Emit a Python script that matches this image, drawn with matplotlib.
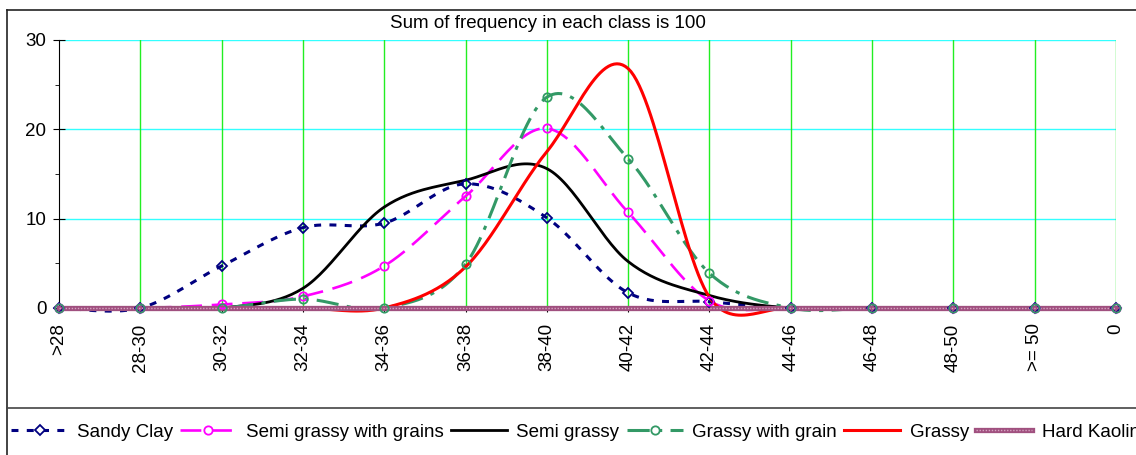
import numpy as np
import matplotlib.pyplot as plt
from matplotlib.lines import Line2D
from matplotlib.legend_handler import HandlerTuple

plt.rcParams['font.family'] = ['Liberation Sans', 'DejaVu Sans']
plt.rcParams['lines.scale_dashes'] = False

# data
classes = ['>28', '28-30', '30-32', '32-34', '34-36', '36-38', '38-40',
           '40-42', '42-44', '44-46', '46-48', '48-50', '>= 50', '0']
sandy_clay = [0, 0, 4.7, 9.0, 9.5, 13.9, 10.1, 1.7, 0.7, 0, 0, 0, 0, 0]
semi_grassy_grains = [0, 0, 0.4, 1.3, 4.7, 12.5, 20.1, 10.7, 0.8, 0, 0, 0, 0, 0]
semi_grassy = [0, 0, 0, 2.2, 11.3, 14.3, 15.6, 5.2, 1.4, 0, 0, 0, 0, 0]
grassy_grain = [0, 0, 0, 1.0, 0, 4.9, 23.6, 16.7, 3.9, 0, 0, 0, 0, 0]
grassy = [0, 0, 0, 0, 0, 4.6, 17.5, 26.8, 1.2, 0, 0, 0, 0, 0]
hard_kaolin = [0, 0, 0, 0, 0, 0, 0, 0, 0, 0, 0, 0, 0, 0]


def excel_smooth(y, k=0.1099, n=30):
    # bezier smoothing like Excel's "smoothed line" (computed in screen-like units)
    x = np.arange(len(y), dtype=float)
    pts = np.column_stack([x, np.asarray(y, float) * k])
    out = []
    last = len(pts) - 1
    t = np.linspace(0, 1, n)[:, None]
    for i in range(last):
        p0 = pts[max(i - 1, 0)]
        p1 = pts[i]
        p2 = pts[i + 1]
        p3 = pts[min(i + 2, last)]
        d02 = np.hypot(*(p2 - p0))
        d12 = np.hypot(*(p2 - p1))
        d13 = np.hypot(*(p3 - p1))
        f0 = 1 / 6 if d02 / 6 < d12 / 2 else d12 / d02 / 2
        f1 = 1 / 6 if d13 / 6 < d12 / 2 else d12 / d13 / 2
        b1 = p1 + (p2 - p0) * f0
        b2 = p2 - (p3 - p1) * f1
        seg = (1 - t) ** 3 * p1 + 3 * (1 - t) ** 2 * t * b1 + 3 * (1 - t) * t ** 2 * b2 + t ** 3 * p2
        out.append(seg if i == 0 else seg[1:])
    c = np.vstack(out)
    return c[:, 0], c[:, 1] / k


series = [
    ('Sandy Clay', sandy_clay, dict(color='#000080', lw=2.2, dashes=(5, 6)), 'D'),
    ('Semi grassy with grains', semi_grassy_grains, dict(color='#ff00ff', lw=1.9, dashes=(15, 7)), 'o'),
    ('Semi grassy', semi_grassy, dict(color='black', lw=2.0, ls='-'), None),
    ('Grassy with grain', grassy_grain, dict(color='#339966', lw=2.2, dashes=(16, 6, 3, 6)), 'o'),
    ('Grassy', grassy, dict(color='#ff0000', lw=2.2, ls='-'), None),
]
kaolin_base = dict(color='#a0507f', lw=3.8, ls='-')
kaolin_top = dict(color='#d7a3c2', lw=1.0, dashes=(1, 1.2))

fig = plt.figure(figsize=(11.36, 4.55), dpi=100)
ax = fig.add_axes([59 / 1136, 1 - 308 / 455, 1057 / 1136, 268 / 455])

x = np.arange(len(classes))
handles = []
labels = []
for i, (name, vals, style, mk) in enumerate(series):
    sx, sy = excel_smooth(vals)
    ax.plot(sx, sy, clip_on=False, zorder=3 + i, solid_capstyle='butt', **style)
    ms = 5 if mk == 'D' else 6
    if mk:
        ax.plot(x, vals, ls='none', marker=mk, ms=ms, mfc='none', mew=1.3,
                mec=style['color'], clip_on=False, zorder=12)
    handles.append(Line2D([], [], marker=mk, ms=ms, mfc='white', mew=1.3,
                          mec=style['color'], **style))
    labels.append(name)

# Hard Kaolin: thick patterned line
sx, sy = excel_smooth(hard_kaolin)
ax.plot(sx, sy, clip_on=False, zorder=9, **kaolin_base)
ax.plot(sx, sy, clip_on=False, zorder=9.5, **kaolin_top)
handles.append((Line2D([], [], **kaolin_base), Line2D([], [], **kaolin_top)))
labels.append('Hard Kaolin')

ax.set_xlim(0, len(classes) - 1)
ax.set_ylim(0, 30)
ax.set_yticks([0, 10, 20, 30])
ax.set_yticks([5, 15, 25], minor=True)
ax.set_xticks(x)
ax.set_xticklabels(classes, rotation=90, fontsize=13.5, va='top')
ax.tick_params(axis='y', which='major', direction='inout', length=8, labelsize=13.5, pad=5)
ax.tick_params(axis='y', which='minor', direction='out', length=3)
ax.tick_params(axis='x', direction='out', length=3, pad=8)

for v in [10, 20, 30]:
    ax.axhline(v, color='#33ffff', lw=1, zorder=1)
for xi in x[1:]:
    ax.axvline(xi, color='#22ee22', lw=1, zorder=1)

ax.spines['top'].set_visible(False)
ax.spines['right'].set_visible(False)

fig.text(0.482, 1 - 23 / 455, 'Sum of frequency in each class is 100',
         ha='center', va='center', fontsize=13.5)

# chart frame and legend separator
fig.add_artist(Line2D([7 / 1136, 1], [1 - 10 / 455] * 2, color='#222222', lw=1.2))
fig.add_artist(Line2D([7 / 1136] * 2, [0, 1 - 10 / 455], color='#222222', lw=1.2))
fig.add_artist(Line2D([7 / 1136, 1], [1 - 408 / 455] * 2, color='#444444', lw=1.2))

fig.legend(handles=handles, labels=labels, loc='center left',
           bbox_to_anchor=(2 / 1136, 1 - 432 / 455),
           ncol=6, frameon=False, fontsize=13.5, handlelength=3.0, handletextpad=0.5,
           columnspacing=0.38, borderpad=0, numpoints=1,
           handler_map={tuple: HandlerTuple(ndivide=1, pad=0)})

fig.savefig('out.png', dpi=100)
